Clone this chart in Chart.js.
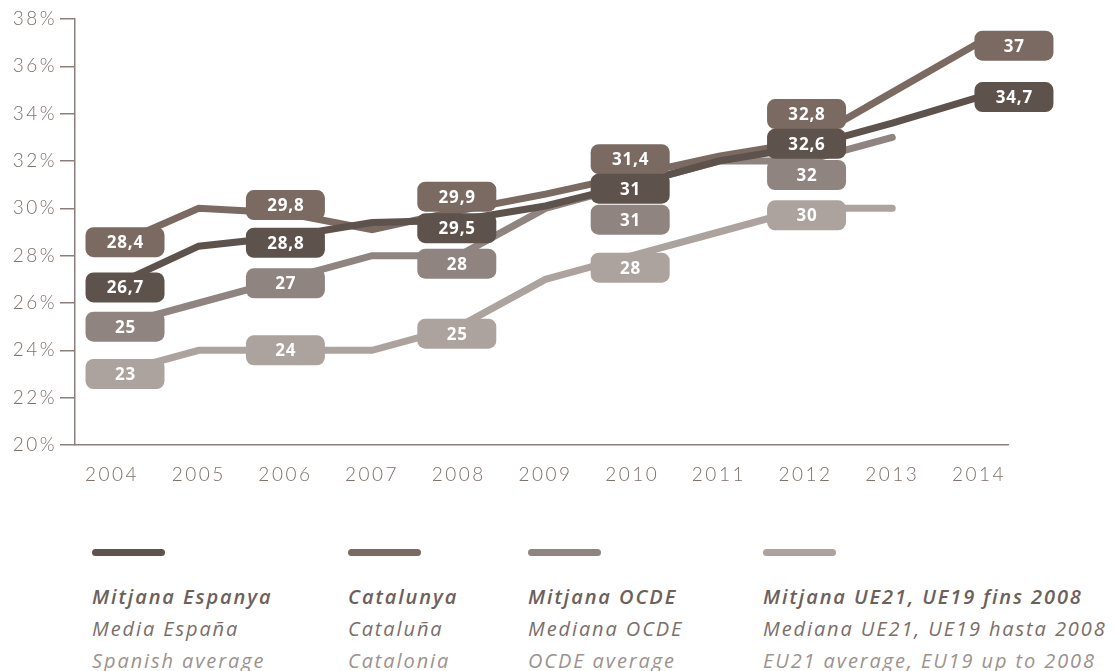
<!DOCTYPE html>
<html>
<head>
<meta charset="utf-8">
<script src="https://cdn.jsdelivr.net/npm/chart.js@4.4.1/dist/chart.umd.min.js"></script>
<style>
  html, body { margin: 0; padding: 0; background: #fff; }
  #wrap { position: relative; width: 1116px; height: 671px; overflow: hidden; }
  #chartBox { position: absolute; left: 0; top: 0; width: 1116px; height: 500px; }
  .leg { position: absolute; top: 549px; font-family: "Open Sans", sans-serif; font-style: italic; font-size: 20px; letter-spacing: 1.9px; }
  .leg .sw { width: 73px; height: 7px; border-radius: 4px; margin-bottom: 25px; }
  .leg div.t { line-height: 32px; white-space: nowrap; }
  .leg .t1 { font-weight: 600; color: #6c605a; }
  .leg .t2 { font-weight: 400; color: #7a6e68; }
  .leg .t3 { font-weight: 400; color: #9c928d; }
</style>
</head>
<body>
<div id="wrap">
  <div id="chartBox"><canvas id="chart"></canvas></div>
  <div id="legend"></div>
</div>
<script>
// anys i valors (%)
const years = [2004, 2005, 2006, 2007, 2008, 2009, 2010, 2011, 2012, 2013, 2014];
const espanya = [26.7, 28.4, 28.8, 29.4, 29.5, 30.1, 31, 32.0, 32.6, 33.6, 34.7];
const catalunya = [28.4, 30.0, 29.8, 29.1, 29.9, 30.6, 31.4, 32.2, 32.8, 34.9, 37];
const ocde = [25, 26, 27, 28, 28, 30, 31, 32, 32, 33, null];
const ue = [23, 24, 24, 24, 25, 27, 28, 29, 30, 30, null];
const labelYears = [2004, 2006, 2008, 2010, 2012, 2014];
const yTicks = [20, 22, 24, 26, 28, 30, 32, 34, 36, 38];

const names = [
  ["Mitjana Espanya", "Media España", "Spanish average"],
  ["Catalunya", "Cataluña", "Catalonia"],
  ["Mitjana OCDE", "Mediana OCDE", "OCDE average"],
  ["Mitjana UE21, UE19 fins 2008", "Mediana UE21, UE19 hasta 2008", "EU21 average, EU19 up to 2008"]
];
const colors = ["#5e524c", "#7a6a62", "#8f847f", "#aca39f"];
const legendX = [92, 348, 528, 763];

// petits desplaçaments de les etiquetes (px) per evitar solapaments
const nudge = [
  [[13, 1], [0, 6], [-2, 8], [-2, 4], [1, -3], [35, 0]],
  [[13, -4], [0, -8], [-2, -14], [-2, -16], [1, -28], [35, 3]],
  [[13, 0], [0, 4], [-2, 8], [-2, 35], [1, 14]],
  [[13, 0], [0, 0], [-2, 7], [-2, 12], [1, 7]]
];

const series = [espanya, catalunya, ocde, ue];

const toPoints = (vals) => years
  .map((yr, i) => ({ x: yr, y: vals[i] }))
  .filter(p => p.y !== null);

// text dels eixos una mica més espaiat (com la font original)
const spacingPlugin = {
  id: "spacing",
  beforeDraw(chart) { chart.ctx.letterSpacing = "2.5px"; },
  afterDraw(chart) { chart.ctx.letterSpacing = "0px"; }
};

const labelPlugin = {
  id: "boxLabels",
  afterDatasetsDraw(chart) {
    const ctx = chart.ctx;
    const xs = chart.scales.x, ys = chart.scales.y;
    ctx.save();
    ctx.letterSpacing = "0.8px";
    ctx.font = "bold 17px 'Open Sans', sans-serif";
    ctx.textAlign = "center";
    ctx.textBaseline = "middle";
    // dibuixem de baix a dalt: UE, OCDE, Catalunya, Espanya
    for (let s = series.length - 1; s >= 0; s--) {
      labelYears.forEach((yr, k) => {
        const i = years.indexOf(yr);
        const v = series[s][i];
        if (v === null || v === undefined) return;
        const off = nudge[s][k] || [0, 0];
        const cx = xs.getPixelForValue(yr) + off[0];
        const cy = ys.getPixelForValue(v) + off[1];
        ctx.fillStyle = colors[s];
        ctx.beginPath();
        ctx.roundRect(cx - 39.5, cy - 15, 79, 30, 8);
        ctx.fill();
        ctx.fillStyle = "#fff";
        ctx.fillText(String(v).replace(".", ","), cx + 0.4, cy + 1);
      });
    }
    ctx.restore();
  }
};

const ctx = document.getElementById("chart").getContext("2d");
new Chart(ctx, {
  type: "line",
  data: {
    datasets: series.map((vals, s) => ({
      label: names[s][0],
      data: toPoints(vals),
      borderColor: colors[s],
      borderWidth: 7,
      borderCapStyle: "round",
      borderJoinStyle: "miter",
      pointRadius: 0,
      tension: 0,
      order: s
    }))
  },
  options: {
    responsive: true,
    maintainAspectRatio: false,
    animation: false,
    layout: { padding: { top: 19, right: 108, left: 0, bottom: 0 } },
    plugins: { legend: { display: false }, tooltip: { enabled: false } },
    scales: {
      x: {
        type: "linear",
        min: 2003.573,
        max: 2014.335,
        afterBuildTicks: (axis) => { axis.ticks = years.map(v => ({ value: v })); },
        afterFit: (axis) => { axis.height = 55; },
        grid: { display: false, drawTicks: false },
        border: { color: "#8a7f7a", width: 1.5 },
        ticks: {
          padding: 18,
          color: "#7d716b",
          font: { family: "Lato, 'Open Sans', sans-serif", size: 19, weight: 300 },
          callback: (v) => String(v)
        }
      },
      y: {
        min: 20,
        max: 38,
        afterBuildTicks: (axis) => { axis.ticks = yTicks.map(v => ({ value: v })); },
        afterFit: (axis) => { axis.width = 75; },
        grid: { drawOnChartArea: false, drawTicks: true, tickLength: 15, color: "#8a7f7a", lineWidth: 1.5 },
        border: { color: "#8a7f7a", width: 1.5 },
        ticks: {
          padding: 3,
          color: "#7d716b",
          font: { family: "Lato, 'Open Sans', sans-serif", size: 19, weight: 300 },
          callback: (v) => v + "%"
        }
      }
    }
  },
  plugins: [spacingPlugin, labelPlugin]
});

// llegenda
const legend = document.getElementById("legend");
names.forEach((n, s) => {
  const col = document.createElement("div");
  col.className = "leg";
  col.style.left = legendX[s] + "px";
  col.innerHTML = `
    <div class="sw" style="background:${colors[s]}"></div>
    <div class="t t1">${n[0]}</div>
    <div class="t t2">${n[1]}</div>
    <div class="t t3">${n[2]}</div>`;
  legend.appendChild(col);
});
</script>
</body>
</html>
